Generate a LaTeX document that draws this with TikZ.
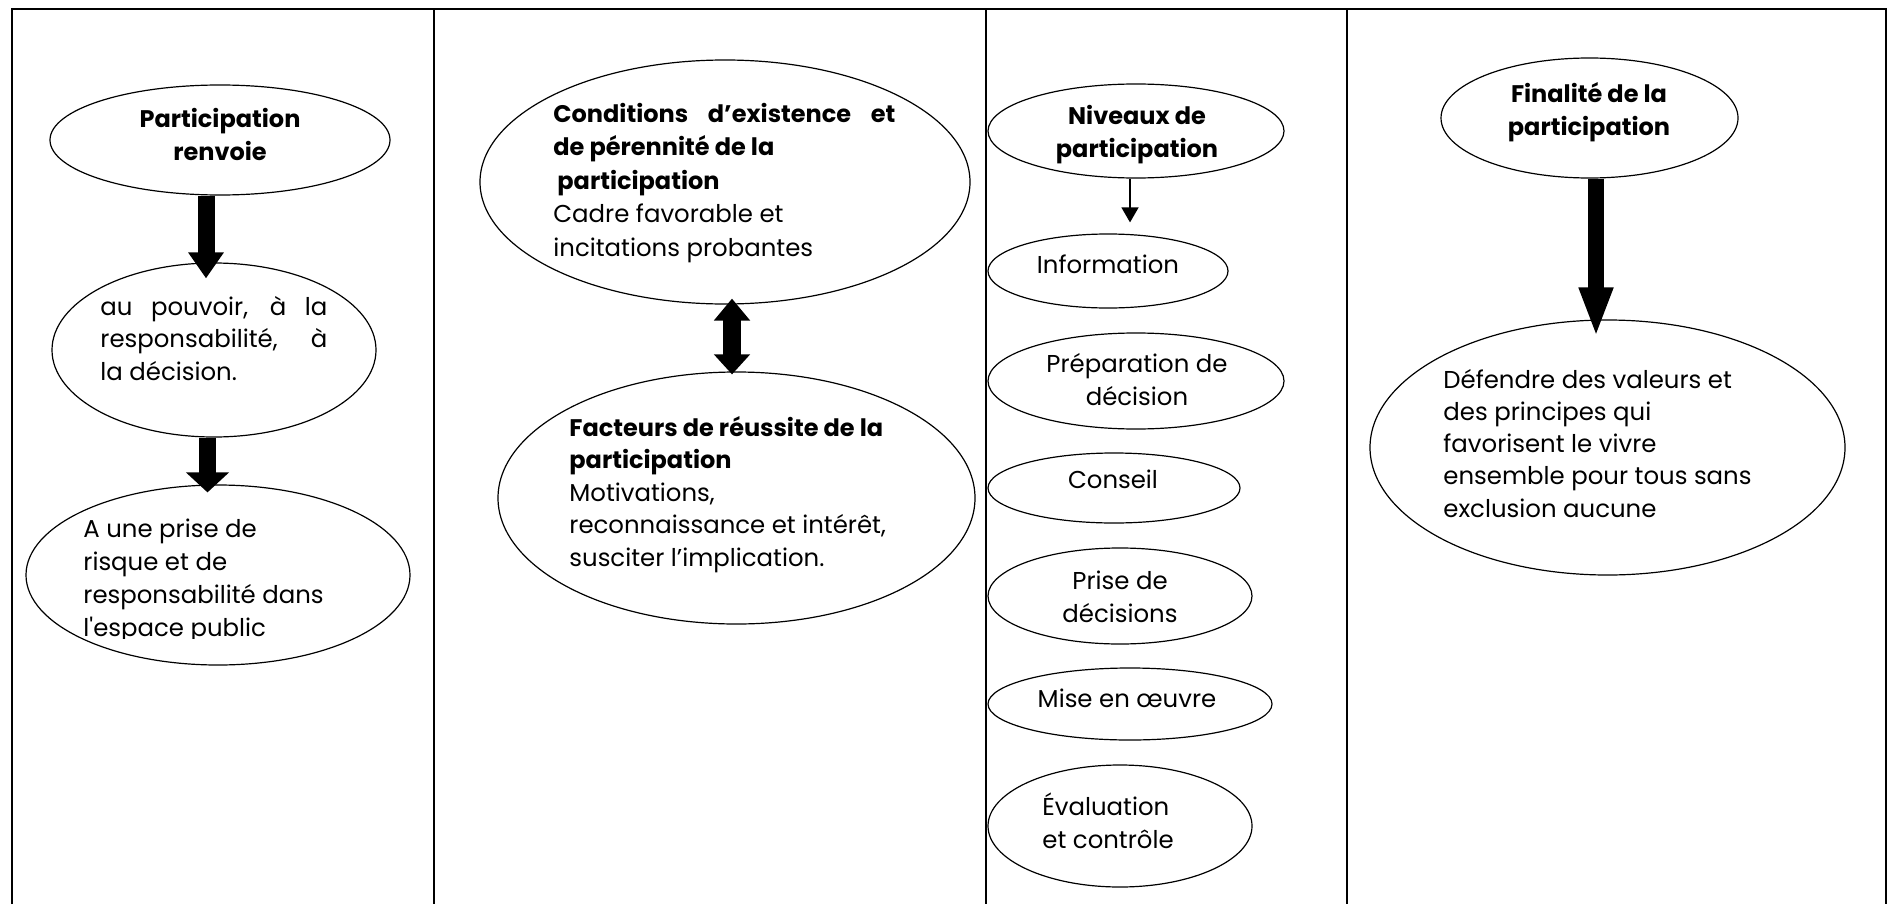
\documentclass[tikz,border=0pt]{standalone}
\usepackage{fontspec}
\setmainfont{Poppins}
\newfontfamily\popplain{Poppins}[Ligatures=TeXOff]
\usetikzlibrary{shapes.geometric,arrows.meta}
\begin{document}
\begin{tikzpicture}[x=0.5pt,y=-0.5pt,
  tbl/.style={line width=1.3pt},
  blob/.style={ellipse,draw,line width=0.6pt,inner sep=0pt},
  txt/.style={inner sep=0pt,font=\fontsize{12.2}{16.25}\selectfont},
  btxt/.style={inner sep=0pt,font=\fontsize{12}{16.25}\selectfont\bfseries},
  fatA/.style={line width=8.5pt,-{Triangle[width=17pt,length=13pt]}},
  fatB/.style={line width=8.5pt,-{Triangle[width=21pt,length=10pt]}},
  fatD/.style={line width=9.25pt,{Triangle[width=17.5pt,length=11pt]}-{Triangle[width=17.5pt,length=10pt]}},
  fatM/.style={line width=7.75pt,-{Triangle[width=15.5pt,length=25pt]}},
  thinarrow/.style={line width=0.75pt,-{Triangle[width=8.5pt,length=7.5pt]}}
]
\useasboundingbox (0,0) rectangle (1888,904);
% table frame
\draw[tbl] (12,904) -- (12,9) -- (1886,9) -- (1886,904);
\draw[tbl] (434,9) -- (434,904);
\draw[tbl] (986,9) -- (986,904);
\draw[tbl] (1347,9) -- (1347,904);

% column 1
\node[blob,minimum width=170pt,minimum height=55pt] (A) at (220,140) {};
\node[btxt,anchor=base,align=center] (At) at (220,160) {Participation\\renvoie};
\node[blob,minimum width=162pt,minimum height=87pt] (B) at (214,350) {};
\node[txt,anchor=base west,align=left] (Bt) at (100,380)
  {\makebox[113.5pt][s]{au pouvoir, à la}\\\makebox[113.5pt][s]{responsabilité, à}\\la décision.};
\node[blob,minimum width=192pt,minimum height=90pt] (C) at (218,575) {};
\begin{scope}
\clip (0,0) rectangle (1888,638);
\node[txt,anchor=base west,align=left,font=\fontsize{12.2}{16.35}\selectfont\popplain] (Ct) at (83,636)
  {A une prise de\\risque et de\\responsabilité dans\\l'espace public};
\end{scope}
\draw[fatA] ([xshift=-7pt]A.south) -- ([xshift=-4pt,yshift=-8pt]B.north);
\draw[fatB] ([xshift=-3.25pt]B.south) -- ([xshift=-5.25pt,yshift=-4pt]C.north);

% column 2
\node[blob,minimum width=245pt,minimum height=122pt] (D) at (725,182) {};
\node[txt,anchor=base west,align=left,font=\fontsize{12.2}{16.75}\selectfont] (Dt) at (553,256)
  {\textbf{\fontsize{12}{16.25}\selectfont\makebox[171pt][s]{Conditions d’existence et}}\\\textbf{\fontsize{12}{16.25}\selectfont de pérennité de la}\\\textbf{\fontsize{12}{16.25}\selectfont\hspace*{2pt}participation}\\Cadre favorable et\\incitations probantes};
\node[blob,minimum width=238.5pt,minimum height=126pt] (E) at (736.5,498) {};
\node[txt,anchor=base west,align=left] (Et) at (569,566)
  {\textbf{\fontsize{12}{16.25}\selectfont Facteurs de réussite de la}\\\textbf{\fontsize{12}{16.25}\selectfont participation}\\Motivations,\\reconnaissance et intérêt,\\susciter l’implication.};
\draw[fatD] ([xshift=3.5pt,yshift=3pt]D.south) -- ([xshift=-2.25pt,yshift=-1.5pt]E.north);

% column 3
\node[blob,minimum width=148pt,minimum height=47pt] (F) at (1136,131) {};
\node[btxt,anchor=base,align=center] (Ft) at (1137,157) {Niveaux de\\participation};
\node[blob,minimum width=120pt,minimum height=37pt] (G) at (1108,271) {};
\node[txt,anchor=base] (Gt) at (1108,273) {Information};
\node[blob,minimum width=148pt,minimum height=48pt] (H) at (1136,381) {};
\node[txt,anchor=base,align=center] (Ht) at (1137,405) {Préparation de\\décision};
\node[blob,minimum width=126pt,minimum height=35pt] (I) at (1114,488) {};
\node[txt,anchor=base] (It) at (1113,488) {Conseil};
\node[blob,minimum width=132pt,minimum height=48pt] (J) at (1120,596) {};
\node[txt,anchor=base,align=center] (Jt) at (1120,622) {Prise de\\décisions};
\node[blob,minimum width=142pt,minimum height=36pt] (K) at (1130,704) {};
\node[txt,anchor=base] (Kt) at (1127,707) {Mise en œuvre};
\node[blob,minimum width=132pt,minimum height=61pt] (L) at (1120,826) {};
\node[txt,anchor=base west,align=left] (Lt) at (1042,848) {Évaluation\\et contrôle};
\draw[thinarrow] ([xshift=-3pt]F.south) -- ([xshift=11pt,yshift=5.5pt]G.north);

% column 4
\node[blob,minimum width=148.5pt,minimum height=60pt] (M) at (1589.5,118) {};
\node[btxt,anchor=base,align=center] (Mt) at (1589,135) {Finalité de la\\participation};
\node[blob,minimum width=237.5pt,minimum height=127.5pt] (N) at (1607.5,447.5) {};
\node[txt,anchor=base west,align=left,font=\fontsize{12.2}{16.1}\selectfont] (Nt) at (1443,517)
  {Défendre des valeurs et\\des principes qui\\favorisent le vivre\\ensemble pour tous sans\\exclusion aucune};
\draw[fatM] ([xshift=3.25pt]M.south) -- ([xshift=-5.75pt,yshift=-9pt]N.north);
\end{tikzpicture}
\end{document}
